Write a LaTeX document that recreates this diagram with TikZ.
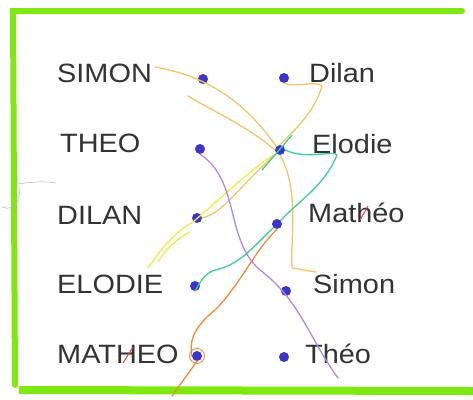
\documentclass[tikz,border=0pt]{standalone}
\usepackage{fontspec}
\setmainfont{Liberation Sans}[FakeStretch=1.09]
\begin{document}
\begin{tikzpicture}[x=1pt,y=-1pt,
  namelbl/.style={anchor=base west,inner sep=0pt,text=black!80,font=\fontsize{26.5}{27}\selectfont},
  bdot/.style={circle,fill=dotblue,inner sep=0pt,minimum size=10pt},
  hstroke/.style={line width=1.3pt,line cap=round,line join=round}]
\definecolor{lime}{HTML}{7EE810}
\definecolor{dotblue}{HTML}{3C36C8}
\definecolor{pale}{HTML}{F4C468}
\definecolor{orng}{HTML}{F0893A}
\definecolor{ylw}{HTML}{F2E84A}
\definecolor{purp}{HTML}{B487E6}
\definecolor{teal}{HTML}{3FCB9C}
\definecolor{redp}{HTML}{E0404A}
\useasboundingbox (0,0) rectangle (473,399);
\fill[white] (0,0) rectangle (473,399);
% border
\draw[lime,line width=6pt,line cap=round] (462,11) -- (13,11) -- (15,385);
\draw[lime,line width=8pt] (19,390) -- (473,391);
% left names
\node[namelbl] (tsimon) at (57,82) {SIMON};
\node[namelbl] (ttheo) at (60,152) {THEO};
\node[namelbl] (tdilan) at (57,224) {DILAN};
\node[namelbl] (telodie) at (57,293) {ELODIE};
\node[namelbl] (tmatheo) at (57,363) {MATHEO};
% right names
\node[namelbl] (rdilan) at (309,82) {Dilan};
\node[namelbl] (relodie) at (312,153) {Elodie};
\node[namelbl] (rmatheo) at (308,222) {Mathéo};
\node[namelbl] (rsimon) at (313,293) {Simon};
\node[namelbl] (rtheo) at (305,363) {Théo};
% dots
\node[bdot] (l1) at (203,79) {};
\node[bdot] (l2) at (200,149) {};
\node[bdot] (l3) at (197,218) {};
\node[bdot] (l4) at (195,286) {};
\node[bdot] (l5) at (197,356) {};
\node[bdot] (r1) at (284,78) {};
\node[bdot] (r2) at (280,150) {};
\node[bdot] (r3) at (277,224) {};
\node[bdot] (r4) at (286,291) {};
\node[bdot] (r5) at (284,357) {};
% free ends
\coordinate (a1) at (155,67);
\coordinate (a2) at (188,96);
\coordinate (b1) at (322,86);
\coordinate (b2) at (316,272);
\coordinate (c1) at (148,268);
\coordinate (c2) at (190,232);
\coordinate (c3) at (158,262);
\coordinate (d1) at (338,378);
\coordinate (e1) at (337,155);
\coordinate (f1) at (172,396);
% pale orange lines
\draw[pale,hstroke] (a1) .. controls (200,75) and (240,95) .. (r2.north west);
\draw[pale,hstroke] (a2) .. controls (215,112) and (250,128) .. (r2.west);
\draw[pale,hstroke] (l3.east) .. controls (225,212) and (235,190) .. (r2.south west);
\draw[pale,hstroke] (r1.south) .. controls (295,88) and (318,80) .. (b1)
   .. controls (315,110) and (300,125) .. (r2.north);
\draw[pale,hstroke] (r2.south) .. controls (300,190) and (290,240) .. (292,268) -- (b2);
% yellow lines
\draw[ylw,hstroke] (l3.south west) .. controls (225,195) and (255,165) .. (r2.south west);
\draw[ylw,hstroke] (l3.south west) .. controls (175,232) and (160,250) .. (c1);
\draw[ylw,hstroke] (c2) .. controls (175,240) and (165,250) .. (c3);
% purple
\draw[purp,hstroke] (l2.south) .. controls (240,180) and (225,240) .. (260,270)
   .. controls (300,300) and (310,340) .. (d1);
% teal / green
\draw[teal,hstroke] (r2.east) .. controls (305,160) and (335,150) .. (e1)
   .. controls (325,185) and (300,200) .. (r3.north east);
\draw[teal,hstroke] (r3.south west) .. controls (255,245) and (240,265) .. (215,270)
   .. controls (205,273) and (200,282) .. (l4.south);
\draw[teal,hstroke] (292,135) -- (262,170);
% orange
\draw[orng,hstroke] (r3.south) .. controls (255,250) and (240,285) .. (215,310)
   .. controls (190,330) and (190,345) .. (l5.west);
\draw[orng,hstroke] (l5.south) -- (f1);
\draw[orng,line width=0.9pt] (l5) circle (7.5pt);
% red strokes
\draw[redp,line width=1pt] (360,220) -- (368,206);
\draw[redp,line width=1pt] (123,363) -- (133,347);
% pencil mark
\draw[gray!60,line width=0.5pt] (18,184) .. controls (30,182) and (45,181) .. (56,183);
\draw[gray!60,line width=0.5pt] (20,186) .. controls (20,200) and (15,212) .. (2,207);
\end{tikzpicture}
\end{document}
